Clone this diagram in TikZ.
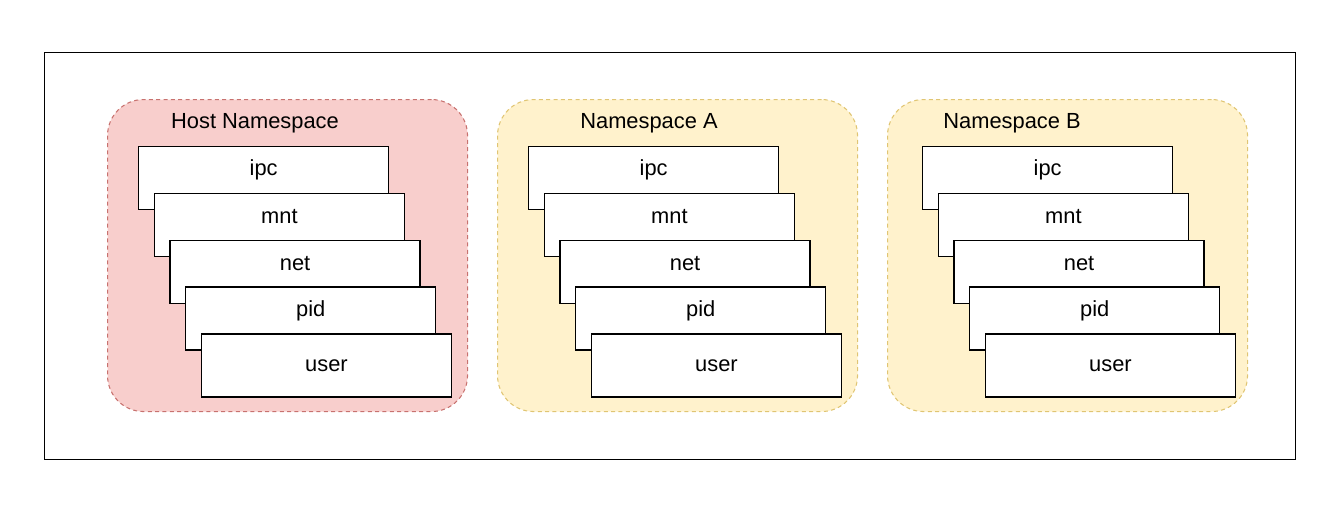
\documentclass[tikz,border=0pt]{standalone}
\usepackage{fontspec}
\setmainfont{Liberation Sans}
\definecolor{hostfill}{HTML}{F8CECC}
\definecolor{hostline}{HTML}{B85450}
\definecolor{nsfill}{HTML}{FFF2CC}
\definecolor{nsline}{HTML}{D6B656}
\tikzset{
  nsgroup/.style={draw, dash pattern=on 3pt off 2.5pt, rounded corners=27pt, minimum width=270pt,
    minimum height=234pt, anchor=north west, line width=0.8pt},
  nsbox/.style={draw, fill=white, line width=1pt, minimum width=187.5pt, minimum height=47.25pt,
    anchor=north west, inner sep=0pt},
}
\begin{document}
\begin{tikzpicture}[x=0.75pt, y=-0.75pt, font=\fontsize{16.4}{19}\selectfont]
\useasboundingbox (0,0) rectangle (1342,508);
\node[draw, line width=0.9pt, minimum width=938.25pt, minimum height=305.25pt, anchor=north west] (frame) at (44,52) {};
% host namespace and the two container namespaces
\foreach \g/\dx/\bx/\fc/\lc/\gname/\tx in {host/0/0/hostfill/hostline/Host Namespace/255,
    nsA/390/390/nsfill/nsline/Namespace A/649, nsB/780/784/nsfill/nsline/Namespace B/1012} {
  \node[nsgroup, fill=\fc, draw=\lc!75!\fc] (\g) at (107+\dx,99) {};
  \node (\g-title) at (\tx,123) {\gname};
  \foreach \ns [count=\i from 0] in {ipc,mnt,net,pid} {
    \node[nsbox, label={[yshift=6pt]center:\ns}] (\g-\ns) at (138+\bx+15.7*\i,146+46.8*\i) {};
  }
  \node[nsbox, label=center:user] (\g-user) at (138+\bx+62.8,146+187.2) {};
}
\end{tikzpicture}
\end{document}
